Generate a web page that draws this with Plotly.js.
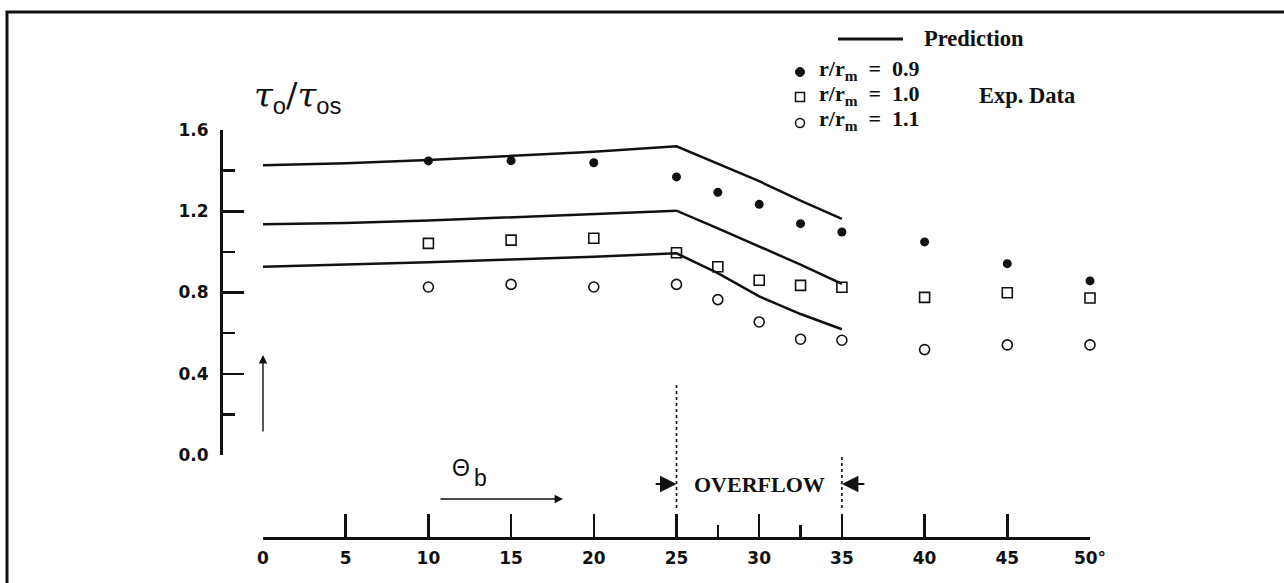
<!DOCTYPE html>
<html>
<head>
<meta charset="utf-8">
<script src="https://cdn.plot.ly/plotly-3.0.1.min.js"></script>
<style>html,body{margin:0;padding:0;background:#fff;}#chart{width:1284px;height:583px;}</style>
</head>
<body>
<div id="chart"></div>
<script>
// ---- data ----
const predX = [0, 5, 10, 15, 20, 25, 27.5, 30, 32.5, 35];
const pred09 = [1.427, 1.436, 1.452, 1.472, 1.493, 1.520, 1.433, 1.348, 1.252, 1.162];
const pred10 = [1.136, 1.142, 1.154, 1.170, 1.185, 1.203, 1.116, 1.028, 0.937, 0.842];
const pred11 = [0.927, 0.937, 0.949, 0.963, 0.976, 0.993, 0.895, 0.781, 0.694, 0.619];

const expX = [10, 15, 20, 25, 27.5, 30, 32.5, 35, 40, 45, 50];
const exp09 = [1.448, 1.449, 1.439, 1.369, 1.293, 1.234, 1.139, 1.098, 1.049, 0.942, 0.857];
const exp10 = [1.042, 1.058, 1.067, 0.996, 0.927, 0.860, 0.835, 0.826, 0.776, 0.799, 0.773];
const exp11 = [0.827, 0.840, 0.827, 0.840, 0.765, 0.655, 0.570, 0.565, 0.519, 0.542, 0.542];

const xTickVals = [0, 5, 10, 15, 20, 25, 30, 35, 40, 45, 50];
const xTickText = ['0', '5', '10', '15', '20', '25', '30', '35', '40', '45', '50°'];
const xMinorVals = [27.5, 32.5];
const yTickVals = [0, 0.4, 0.8, 1.2, 1.6];
const yTickText = ['0.0', '0.4', '0.8', '1.2', '1.6'];
const yMinorVals = [0.2, 0.6, 1.0, 1.4];

const legendLabels = ['r/r<sub>m</sub> &nbsp;=&nbsp; 0.9', 'r/r<sub>m</sub> &nbsp;=&nbsp; 1.0', 'r/r<sub>m</sub> &nbsp;=&nbsp; 1.1'];

const overflowStart = 25, overflowEnd = 35;

// ---- geometry helpers (pixel -> paper) ----
const W = 1284, H = 583, L = 221, R = 194, T = 130, B = 45;
const PW = W - L - R, PH = H - T - B;
const px = v => (v - L) / PW;
const py = v => (H - B - v) / PH;

const INK = '#111';
const lineStyle = {color: INK, width: 2.5};

const traces = [
  {x: predX, y: pred09, mode: 'lines', line: lineStyle, cliponaxis: false, hoverinfo: 'skip'},
  {x: predX, y: pred10, mode: 'lines', line: lineStyle, cliponaxis: false, hoverinfo: 'skip'},
  {x: predX, y: pred11, mode: 'lines', line: lineStyle, cliponaxis: false, hoverinfo: 'skip'},
  {x: expX, y: exp09, mode: 'markers', cliponaxis: false,
   marker: {symbol: 'circle', size: 9, color: INK, line: {width: 0}}},
  {x: expX, y: exp10, mode: 'markers', cliponaxis: false,
   marker: {symbol: 'square-open', size: 10, color: INK, line: {width: 1.6, color: INK}}},
  {x: expX, y: exp11, mode: 'markers', cliponaxis: false,
   marker: {symbol: 'circle-open', size: 10, color: INK, line: {width: 1.6, color: INK}}}
];

const tickFont = {family: 'DejaVu Sans', size: 17, weight: 'bold', color: INK};
const serifB = (size) => ({family: 'Liberation Serif', size: size, weight: 'bold', color: INK});

const shapes = [
  // frame
  {type: 'rect', xref: 'paper', yref: 'paper', x0: px(7), x1: px(1300), y0: py(600), y1: py(12),
   line: {color: INK, width: 3}, fillcolor: 'rgba(0,0,0,0)'},
  // overflow boundaries
  {type: 'line', xref: 'x', yref: 'paper', x0: overflowStart, x1: overflowStart, y0: py(508), y1: py(383),
   line: {color: INK, width: 1.6, dash: 'dot'}},
  {type: 'line', xref: 'x', yref: 'paper', x0: overflowEnd, x1: overflowEnd, y0: py(508), y1: py(455),
   line: {color: INK, width: 1.6, dash: 'dot'}},
  // legend line sample
  {type: 'line', xref: 'paper', yref: 'paper', x0: px(838), x1: px(903), y0: py(39), y1: py(39),
   line: {color: INK, width: 3}},
  // legend markers
  {type: 'circle', xref: 'paper', yref: 'paper', x0: px(795.5), x1: px(804.5), y0: py(76.5), y1: py(67.5),
   fillcolor: INK, line: {color: INK, width: 1}},
  {type: 'rect', xref: 'paper', yref: 'paper', x0: px(795.5), x1: px(804.5), y0: py(101.5), y1: py(92.5),
   fillcolor: 'rgba(0,0,0,0)', line: {color: INK, width: 1.5}},
  {type: 'circle', xref: 'paper', yref: 'paper', x0: px(795.5), x1: px(804.5), y0: py(127.5), y1: py(118.5),
   fillcolor: 'rgba(0,0,0,0)', line: {color: INK, width: 1.5}}
];

const annotations = [
  // y title
  {xref: 'paper', yref: 'paper', x: px(252), y: py(97), xanchor: 'left', yanchor: 'middle', showarrow: false,
   text: '<i>τ</i><sub><span style="font-family:Liberation Sans">o</span></sub>/<i>τ</i><sub><span style="font-family:Liberation Sans">os</span></sub>',
   font: {family: 'DejaVu Serif', size: 34, color: INK}},
  // vertical arrow by the y axis
  {xref: 'x', yref: 'paper', x: 0, y: py(355), ax: 0, ay: 78, axref: 'pixel', ayref: 'pixel', text: '',
   showarrow: true, arrowhead: 2, arrowsize: 1.2, arrowwidth: 1.4, arrowcolor: INK, standoff: 0},
  // theta_b label and arrow
  {xref: 'paper', yref: 'paper', x: px(450), y: py(468), xanchor: 'left', yanchor: 'middle', showarrow: false,
   text: 'Θ', font: {family: 'Liberation Sans', size: 23, color: INK}},
  {xref: 'paper', yref: 'paper', x: px(472), y: py(478), xanchor: 'left', yanchor: 'middle', showarrow: false,
   text: 'b', font: {family: 'Liberation Sans', size: 23, color: INK}},
  {xref: 'x', yref: 'paper', x: (563 - 263) / 16.54, y: py(499), axref: 'x', ayref: 'paper',
   ax: (439 - 263) / 16.54, ay: py(499), text: '', showarrow: true, arrowhead: 2, arrowsize: 1.2,
   arrowwidth: 1.4, arrowcolor: INK, standoff: 0},
  // overflow
  {xref: 'x', yref: 'paper', x: (overflowStart + overflowEnd) / 2, y: py(484), xanchor: 'center', yanchor: 'middle',
   showarrow: false, text: 'OVERFLOW', font: serifB(22)},
  {xref: 'x', yref: 'paper', x: overflowStart, y: py(484), axref: 'x', ayref: 'paper',
   ax: overflowStart - 1.35, ay: py(484), text: '', showarrow: true, arrowhead: 2, arrowsize: 1.5,
   arrowwidth: 2.2, arrowcolor: INK, standoff: 0},
  {xref: 'x', yref: 'paper', x: overflowEnd, y: py(484), axref: 'x', ayref: 'paper',
   ax: overflowEnd + 1.45, ay: py(484), text: '', showarrow: true, arrowhead: 2, arrowsize: 1.5,
   arrowwidth: 2.2, arrowcolor: INK, standoff: 0},
  // legend texts
  {xref: 'paper', yref: 'paper', x: px(922), y: py(39), xanchor: 'left', yanchor: 'middle', showarrow: false,
   text: 'Prediction', font: serifB(22.5)},
  {xref: 'paper', yref: 'paper', x: px(817), y: py(70), xanchor: 'left', yanchor: 'middle', showarrow: false,
   text: legendLabels[0], font: serifB(22)},
  {xref: 'paper', yref: 'paper', x: px(817), y: py(95), xanchor: 'left', yanchor: 'middle', showarrow: false,
   text: legendLabels[1], font: serifB(22)},
  {xref: 'paper', yref: 'paper', x: px(817), y: py(120), xanchor: 'left', yanchor: 'middle', showarrow: false,
   text: legendLabels[2], font: serifB(22)},
  {xref: 'paper', yref: 'paper', x: px(977), y: py(95), xanchor: 'left', yanchor: 'middle', showarrow: false,
   text: 'Exp. Data', font: serifB(22.5)}
];

const layout = {
  width: W, height: H,
  margin: {l: L, r: R, t: T, b: B, pad: 0},
  paper_bgcolor: '#fff', plot_bgcolor: '#fff',
  showlegend: false,
  xaxis: {
    domain: [42 / PW, 1], range: [0, 50], anchor: 'free', position: 0,
    showline: true, linecolor: INK, linewidth: 2.5, showgrid: false, zeroline: false,
    ticks: 'inside', ticklen: 23, tickwidth: 2.5, tickcolor: INK,
    tickmode: 'array', tickvals: xTickVals, ticktext: xTickText, tickfont: tickFont,
    ticklabelstandoff: 4,
    minor: {tickmode: 'array', tickvals: xMinorVals, ticks: 'inside', ticklen: 12, tickwidth: 2.5,
            tickcolor: INK, showgrid: false},
    fixedrange: true
  },
  yaxis: {
    domain: [83 / PH, 1], range: [0, 1.6], anchor: 'free', position: 0,
    showline: true, linecolor: INK, linewidth: 2.5, showgrid: false, zeroline: false,
    ticks: 'inside', ticklen: 21, tickwidth: 2.5, tickcolor: INK,
    tickmode: 'array', tickvals: yTickVals, ticktext: yTickText, tickfont: tickFont,
    ticklabelstandoff: 8,
    minor: {tickmode: 'array', tickvals: yMinorVals, ticks: 'inside', ticklen: 12, tickwidth: 2.5,
            tickcolor: INK, showgrid: false},
    fixedrange: true
  },
  shapes: shapes,
  annotations: annotations
};

Plotly.newPlot('chart', traces, layout, {displayModeBar: false, staticPlot: true});
</script>
</body>
</html>
